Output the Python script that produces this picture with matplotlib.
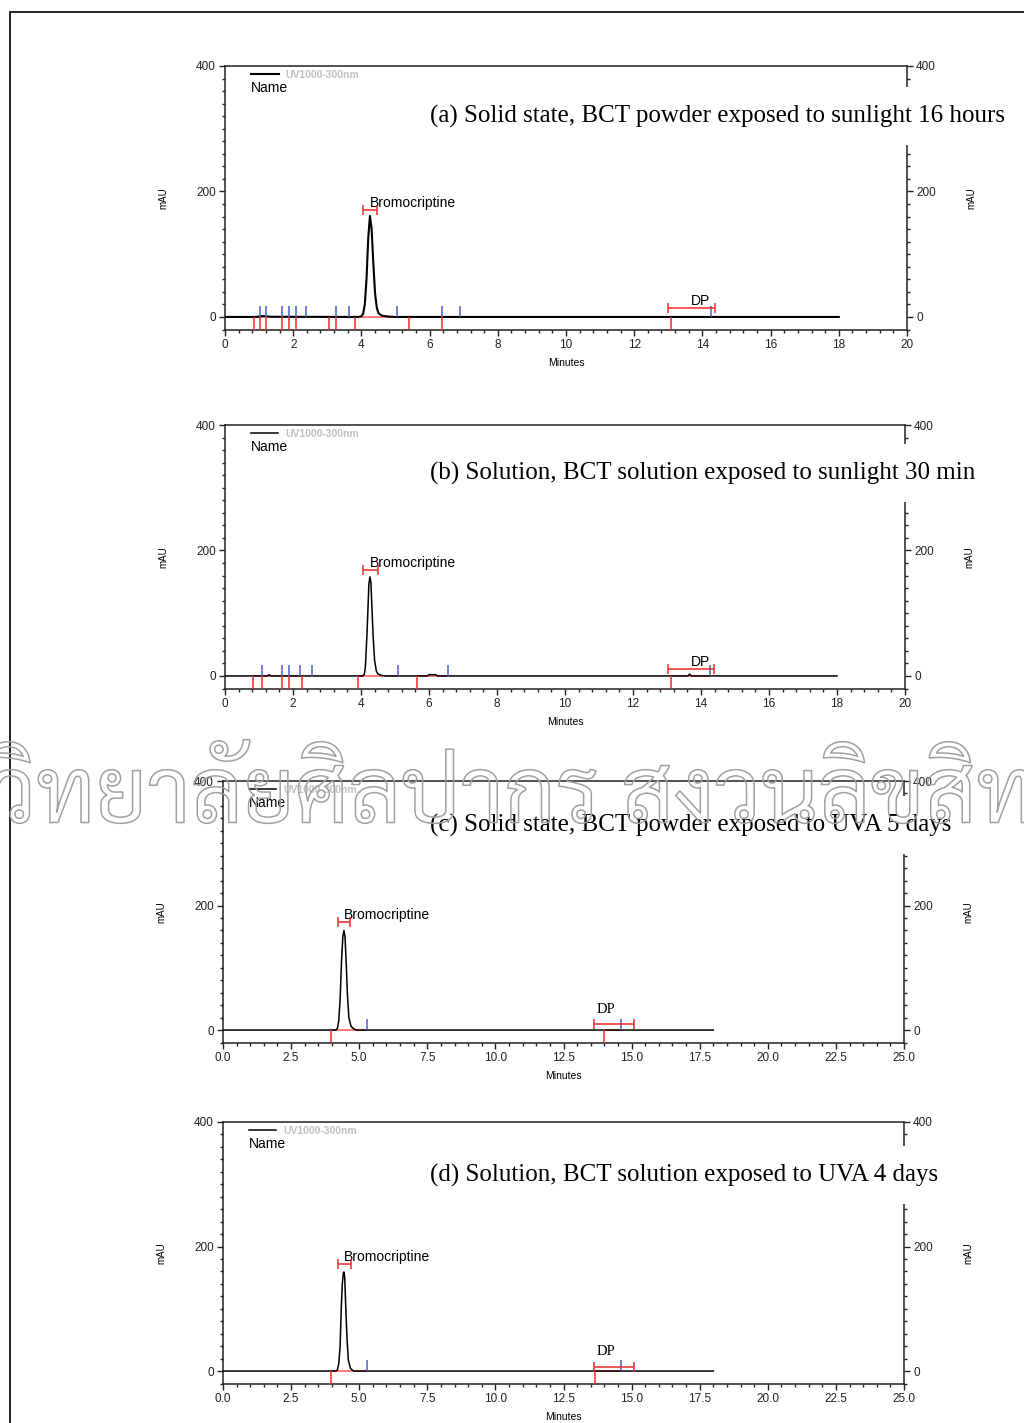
import matplotlib
matplotlib.use("Agg")
import matplotlib.pyplot as plt
from matplotlib import patheffects
from matplotlib.patches import Rectangle
from matplotlib.ticker import MultipleLocator, FormatStrFormatter

# ---- datos leídos de los cromatogramas ----
# (a) estado sólido, luz solar 16 h
a_t = [0, 0.9, 1.0, 1.1, 1.2, 1.35, 3.9, 4.0, 4.05, 4.1, 4.15, 4.2, 4.25, 4.3,
       4.35, 4.4, 4.45, 4.5, 4.6, 4.8, 5.0, 18.0]
a_mau = [0, 0, 0.5, 1.5, 1.0, 0.3, 0, 1, 5, 20, 60, 125, 161, 140,
         85, 38, 15, 6, 2, 0.5, 0, 0]
a_azul = [1.03, 1.20, 1.67, 1.89, 2.08, 2.38, 3.26, 3.65, 5.03, 6.35, 6.89, 14.24]
a_rojo = [0.86, 1.03, 1.20, 1.67, 1.89, 2.08, 3.05, 3.26, 3.80, 5.40, 6.35, 13.07]
a_base = [(0.86, 2.38), (3.05, 3.65), (3.80, 5.03), (5.40, 6.89), (13.07, 14.24)]
a_ventana = [(4.04, 4.45), (12.98, 14.37)]
a_marca = [170, 15]

# (b) solución, luz solar 30 min
b_t = [0, 1.25, 1.3, 1.35, 4.05, 4.1, 4.13, 4.17, 4.2, 4.23, 4.26, 4.29, 4.32,
       4.36, 4.4, 4.45, 4.5, 4.6, 4.7, 5.95, 6.0, 6.2, 6.25, 13.62, 13.66, 13.72, 18.0]
b_mau = [0, 0, 2, 0, 0, 3, 15, 60, 100, 145, 158, 150, 110,
         60, 25, 8, 3, 1, 0, 0, 2, 2, 0, 0, 3, 0, 0]
b_azul = [1.08, 1.67, 1.89, 2.21, 2.55, 5.08, 6.55, 14.26]
b_rojo = [0.83, 1.08, 1.67, 1.89, 2.26, 3.92, 5.66, 13.11]
b_base = [(0.83, 2.26), (3.92, 5.08), (5.66, 6.55), (13.11, 14.26)]
b_ventana = [(4.05, 4.49), (13.02, 14.38)]
b_marca = [169, 11]

# (c) estado sólido, UVA 5 días
c_t = [0, 4.15, 4.2, 4.25, 4.3, 4.35, 4.4, 4.44, 4.48, 4.52, 4.57, 4.62, 4.7, 4.8, 4.9, 18.0]
c_mau = [0, 0, 3, 15, 50, 110, 150, 160, 150, 110, 55, 20, 6, 2, 0, 0]
c_azul = [5.27, 14.6]
c_rojo = [3.96, 14.0]
c_base = [(3.96, 5.27), (14.0, 14.6)]
c_ventana = [(4.22, 4.66), (13.62, 15.09)]
c_marca = [174, 9]

# (d) solución, UVA 4 días
d_t = [0, 4.15, 4.2, 4.25, 4.3, 4.34, 4.38, 4.42, 4.44, 4.47, 4.5, 4.55, 4.6, 4.68, 4.8, 18.0]
d_mau = [0, 0, 2, 12, 40, 100, 140, 158, 159, 150, 110, 55, 18, 4, 0, 0]
d_azul = [5.27, 14.6]
d_rojo = [3.96, 13.67]
d_base = [(3.96, 5.27), (13.67, 14.6)]
d_ventana = [(4.21, 4.69), (13.62, 15.09)]
d_marca = [172, 7]

picos = ["Bromocriptine", "DP"]
titulos = ["(a) Solid state, BCT powder exposed to sunlight 16 hours",
           "(b) Solution, BCT solution exposed to sunlight 30 min",
           "(c) Solid state, BCT powder exposed to UVA 5 days",
           "(d) Solution, BCT solution exposed to UVA 4 days"]
canal = "UV1000-300nm"
marca_pre = "มหา"
marca_vis = "วิทยาลัยศิลปากร สงวนลิขสิท"
marca_post = "ธิ์"

W, H = 1024, 1423
ROJO, ROSA, AZUL = "#ee2a2a", "#ff7a7a", "#4a5fc0"
FAM_THAI = ["Sarabun", "IBM Plex Sans Thai Looped", "FreeSerif"]


def caja(x0, x1, y_top, y_bot):
    return [x0 / W, 1 - y_bot / H, (x1 - x0) / W, (y_bot - y_top) / H]


def dibujar_panel(fig, rect, t, mau, azul, rojo, base, ventana, marca, xmax, paso, fmt, serif_dp, lw):
    ax = fig.add_axes(rect)
    linea, = ax.plot(t, mau, color="black", lw=lw, zorder=4)
    for x0, x1 in base:
        ax.hlines(0, x0, x1, color=ROSA, lw=1.4, zorder=3)
    ax.vlines(azul, 0, 18, color=AZUL, lw=1.1, zorder=5)
    ax.vlines(rojo, -20, 0, color=ROJO, lw=1.1, zorder=5)
    for i, ((x0, x1), y) in enumerate(zip(ventana, marca)):
        cx = (x0 + x1) / 2
        ax.errorbar(cx, y, xerr=(x1 - x0) / 2, color=ROJO, lw=1.1, capsize=3.5, capthick=1.1, zorder=5)
        if i == 1 and serif_dp:
            ax.annotate(picos[i], (cx, y), xytext=(1, 6), textcoords="offset points",
                        ha="right", va="bottom", fontsize=10.5, family="Liberation Serif")
        else:
            ax.annotate(picos[i], (cx, y), xytext=(0, 0), textcoords="offset points",
                        ha="left", va="bottom", fontsize=10, family="Liberation Sans")

    ax.set_xlim(0, xmax)
    ax.set_ylim(-20, 400)
    ax.xaxis.set_major_locator(MultipleLocator(paso))
    ax.xaxis.set_minor_locator(MultipleLocator(paso / 5))
    ax.xaxis.set_major_formatter(FormatStrFormatter(fmt))
    ax.yaxis.set_major_locator(MultipleLocator(200))
    ax.yaxis.set_minor_locator(MultipleLocator(20))
    ax.tick_params(which="both", direction="out", width=1, colors="#222222", labelsize=8.5)
    ax.tick_params(which="major", length=4.5, pad=2)
    ax.tick_params(which="minor", length=2.2)
    ax.tick_params(axis="y", which="both", left=True, right=True, labelleft=True, labelright=True)
    for lab in ax.get_xticklabels() + ax.get_yticklabels():
        lab.set_family("Liberation Sans")
    for s in ax.spines.values():
        s.set_linewidth(1.1)
        s.set_color("#222222")

    ax.set_xlabel("Minutes", fontsize=7.5, family="Liberation Sans")
    ax.xaxis.set_label_coords(0.5, -0.108)
    ax.set_ylabel("mAU", fontsize=7, family="Liberation Sans")
    ax.yaxis.set_label_coords(-0.083, 0.5)
    ax.text(1.094, 0.5, "mAU", transform=ax.transAxes, rotation=90, ha="center", va="center",
            fontsize=7, family="Liberation Sans")

    ley = ax.legend([linea], [canal], loc="upper left", bbox_to_anchor=(0.025, 1.02),
                    frameon=False, handlelength=2.6, handletextpad=0.7,
                    prop={"family": "Liberation Sans", "size": 7.5, "weight": "bold"})
    for tx in ley.get_texts():
        tx.set_color("#c0c0c0")
    ax.text(0.038, 0.915, "Name", transform=ax.transAxes, ha="left", va="center",
            fontsize=10, family="Liberation Sans")
    return ax


fig = plt.figure(figsize=(W / 100, H / 100), dpi=100)

paneles = [
    (caja(225, 907, 66, 329.5), a_t, a_mau, a_azul, a_rojo, a_base, a_ventana, a_marca, 20, 2, "%d", False, 1.5),
    (caja(225, 905, 425, 688.5), b_t, b_mau, b_azul, b_rojo, b_base, b_ventana, b_marca, 20, 2, "%d", False, 1.1),
    (caja(223, 904, 781, 1042.5), c_t, c_mau, c_azul, c_rojo, c_base, c_ventana, c_marca, 25, 2.5, "%.1f", True, 1.1),
    (caja(223, 904, 1122, 1383.5), d_t, d_mau, d_azul, d_rojo, d_base, d_ventana, d_marca, 25, 2.5, "%.1f", True, 1.1),
]
for p in paneles:
    dibujar_panel(fig, *p)

# títulos con fondo blanco (tapan el eje derecho)
for titulo, y in zip(titulos, [116, 473, 825, 1175]):
    fig.text(430 / W, 1 - y / H, titulo, ha="left", va="center", fontsize=18,
             family="Liberation Serif",
             bbox=dict(boxstyle="square,pad=0.7", fc="white", ec="none"))

# marco del documento
fig.add_artist(Rectangle((10 / W, -0.05), 1.2, 1 - 12 / H + 0.05, transform=fig.transFigure,
                         fill=False, ec="#222222", lw=1.4))

# marca de agua en contorno: se ajusta el tamaño para que la parte visible llene el ancho
rend = fig.canvas.get_renderer()


def ancho(s, size):
    tx = fig.text(0, 0, s, fontsize=size, family=FAM_THAI)
    w = tx.get_window_extent(rend).width
    tx.remove()
    return w


tam = 60 * 1045 / ancho(marca_vis, 60)
x_ini = -10 - ancho(marca_pre, tam)
fig.text(x_ini / W, 1 - 800 / H, marca_pre + marca_vis + marca_post, ha="left", va="center",
         fontsize=tam, family=FAM_THAI, color="none", zorder=10,
         path_effects=[patheffects.Stroke(linewidth=1.1, foreground="#a0a0a0")])

fig.savefig("out.png", dpi=100)
